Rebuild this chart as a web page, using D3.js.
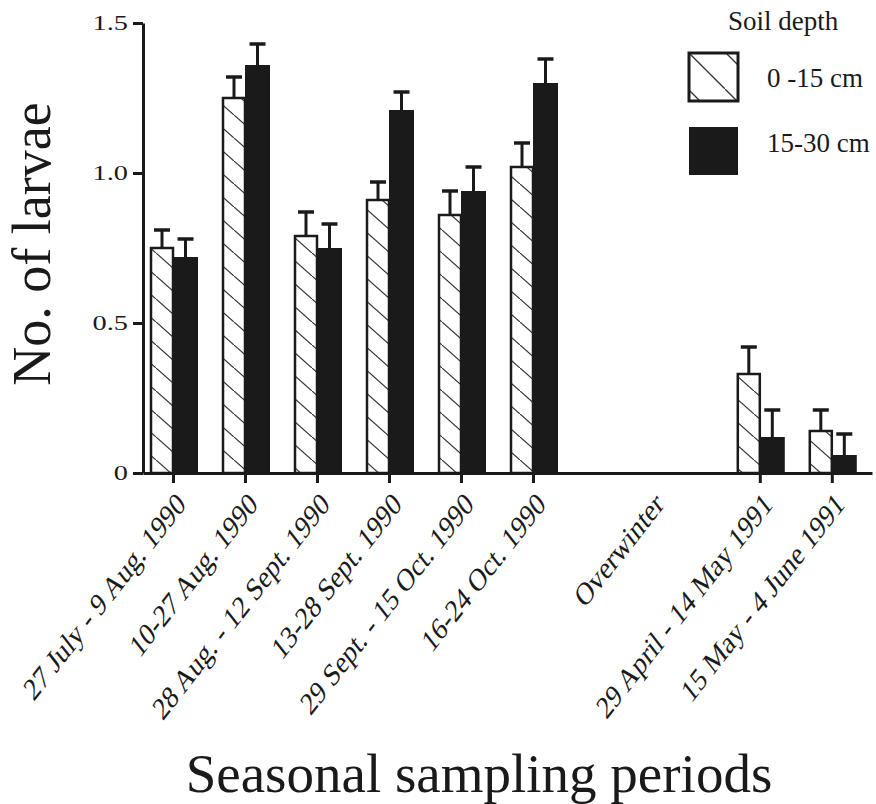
<!DOCTYPE html>
<html>
<head>
<meta charset="utf-8">
<script src="https://cdn.jsdelivr.net/npm/d3@7"></script>
<style>
    body { margin: 0; background: #fff; }
    svg text { font-family: "Liberation Serif", "Times New Roman", serif; fill: #1a1a1a; }
</style>
</head>
<body>
<div id="chart"></div>
<script>
// sampling periods along the x axis (Overwinter is only a gap label)
var periods = ["27 July - 9 Aug. 1990", "10-27 Aug. 1990", "28 Aug. - 12 Sept. 1990",
    "13-28 Sept. 1990", "29 Sept. - 15 Oct. 1990", "16-24 Oct. 1990",
    "Overwinter", "29 April - 14 May 1991", "15 May - 4 June 1991"];
// position of each period on the time line (gap around the winter)
var slots = [0, 1, 2, 3, 4, 5, 6.64, 8.15, 9.15];

// mean no. of larvae and standard error, 0-15 cm
var shallow = [0.75, 1.25, 0.79, 0.91, 0.86, 1.02, null, 0.33, 0.14];
var shallowSE = [0.06, 0.07, 0.08, 0.06, 0.08, 0.08, null, 0.09, 0.07];
// 15-30 cm
var deep = [0.72, 1.36, 0.75, 1.21, 0.94, 1.30, null, 0.12, 0.06];
var deepSE = [0.06, 0.07, 0.08, 0.06, 0.08, 0.08, null, 0.09, 0.07];

var yTicks = [0, 0.5, 1.0, 1.5];
var legendLabels = ["0 -15 cm", "15-30 cm"];

var ink = "#1a1a1a";
var width = 876, height = 804;

var svg = d3.select("#chart").append("svg")
    .attr("width", width)
    .attr("height", height);

var defs = svg.append("defs");

//Hatch for the bars
var hatch = defs.append("pattern")
    .attr("id", "hatch")
    .attr("patternUnits", "userSpaceOnUse")
    .attr("width", 26)
    .attr("height", 23);
hatch.append("rect").attr("width", 26).attr("height", 23).attr("fill", "#fff");
hatch.append("line")
    .attr("x1", 0).attr("y1", 0).attr("x2", 26).attr("y2", 23)
    .attr("stroke", "#333").attr("stroke-width", 1.2);

//Hatch for the legend box (one diagonal corner to corner)
var hatchLeg = defs.append("pattern")
    .attr("id", "hatchLeg")
    .attr("patternUnits", "userSpaceOnUse")
    .attr("x", 688).attr("y", 52)
    .attr("width", 37)
    .attr("height", 37);
hatchLeg.append("rect").attr("width", 37).attr("height", 37).attr("fill", "#fff");
hatchLeg.append("line")
    .attr("x1", 0).attr("y1", 0).attr("x2", 37).attr("y2", 37)
    .attr("stroke", "#333").attr("stroke-width", 1.3);

//Scales
var x = d3.scaleLinear()
    .domain([-30 / 72, 699 / 72])
    .range([143, 872]);

var y = d3.scaleLinear()
    .domain([0, 1.5])
    .range([473, 23]);

var rows = periods.map(function (p, i) {
    return {period: p, slot: slots[i], a: shallow[i], aSE: shallowSE[i], b: deep[i], bSE: deepSE[i]};
});
var sampled = rows.filter(function (d) { return d.a != null; });

//Bars
var hatchW = 22, blackW = 25;

svg.selectAll(".barA")
    .data(sampled)
    .enter().append("rect")
    .attr("class", "barA")
    .attr("x", function (d) { return x(d.slot) - hatchW; })
    .attr("y", function (d) { return y(d.a); })
    .attr("width", hatchW)
    .attr("height", function (d) { return y(0) - y(d.a); })
    .attr("fill", "url(#hatch)")
    .attr("stroke", ink)
    .attr("stroke-width", 2.5);

svg.selectAll(".barB")
    .data(sampled)
    .enter().append("rect")
    .attr("class", "barB")
    .attr("x", function (d) { return x(d.slot); })
    .attr("y", function (d) { return y(d.b); })
    .attr("width", blackW)
    .attr("height", function (d) { return y(0) - y(d.b); })
    .attr("fill", ink);

//Error bars (upper half only)
function errBars(cls, cx, val, se) {
    var g = svg.selectAll("." + cls)
        .data(sampled)
        .enter().append("g")
        .attr("class", cls);
    g.append("line")
        .attr("x1", cx).attr("x2", cx)
        .attr("y1", function (d) { return y(d[val]); })
        .attr("y2", function (d) { return y(d[val] + d[se]); })
        .attr("stroke", ink).attr("stroke-width", 3);
    g.append("line")
        .attr("x1", function (d) { return cx(d) - 8; })
        .attr("x2", function (d) { return cx(d) + 8; })
        .attr("y1", function (d) { return y(d[val] + d[se]); })
        .attr("y2", function (d) { return y(d[val] + d[se]); })
        .attr("stroke", ink).attr("stroke-width", 3.5);
}
errBars("errA", function (d) { return x(d.slot) - hatchW / 2; }, "a", "aSE");
errBars("errB", function (d) { return x(d.slot) + blackW / 2; }, "b", "bSE");

//Axes
var yAxis = svg.append("g")
    .attr("transform", "translate(143,0)")
    .call(d3.axisLeft(y)
        .tickValues(yTicks)
        .tickFormat(function (d) { return d === 0 ? "0" : d3.format(".1f")(d); })
        .tickSize(10)
        .tickPadding(5)
        .tickSizeOuter(0));

var xAxis = svg.append("g")
    .attr("transform", "translate(0,473)")
    .call(d3.axisBottom(x)
        .tickValues(sampled.map(function (d) { return d.slot; }))
        .tickFormat("")
        .tickSize(10)
        .tickSizeOuter(0));

svg.selectAll(".domain, .tick line")
    .attr("stroke", ink)
    .attr("stroke-width", 3);

//Tick labels are wide in the original print
yAxis.selectAll("text")
    .style("font-size", "21px")
    .attr("fill", ink)
    .each(function () {
        var w = this.getComputedTextLength();
        d3.select(this)
            .attr("textLength", w * 1.35)
            .attr("lengthAdjust", "spacingAndGlyphs");
    });

//Period labels, slanted
svg.selectAll(".period")
    .data(rows)
    .enter().append("text")
    .attr("class", "period")
    .attr("transform", function (d) {
        return "translate(" + (x(d.slot) + 14) + ",506) scale(1,1.28) rotate(-45)";
    })
    .attr("text-anchor", "end")
    .style("font-size", "25px")
    .text(function (d) { return d.period; });

//Axis titles
svg.append("text")
    .attr("transform", "translate(50,244) rotate(-90)")
    .attr("text-anchor", "middle")
    .style("font-size", "54px")
    .text("No. of larvae");

svg.append("text")
    .attr("x", 479)
    .attr("y", 792)
    .attr("text-anchor", "middle")
    .style("font-size", "55px")
    .text("Seasonal sampling periods");

//Legend
svg.append("text")
    .attr("x", 728).attr("y", 30)
    .style("font-size", "27px")
    .text("Soil depth");

svg.append("rect")
    .attr("x", 689).attr("y", 53)
    .attr("width", 49).attr("height", 48)
    .attr("fill", "url(#hatchLeg)")
    .attr("stroke", ink).attr("stroke-width", 3);

svg.append("rect")
    .attr("x", 689).attr("y", 127)
    .attr("width", 49).attr("height", 48)
    .attr("fill", ink);

svg.selectAll(".legLabel")
    .data(legendLabels)
    .enter().append("text")
    .attr("class", "legLabel")
    .attr("x", 767)
    .attr("y", function (d, i) { return i === 0 ? 87 : 152; })
    .style("font-size", "27px")
    .text(function (d) { return d; });
</script>
</body>
</html>
